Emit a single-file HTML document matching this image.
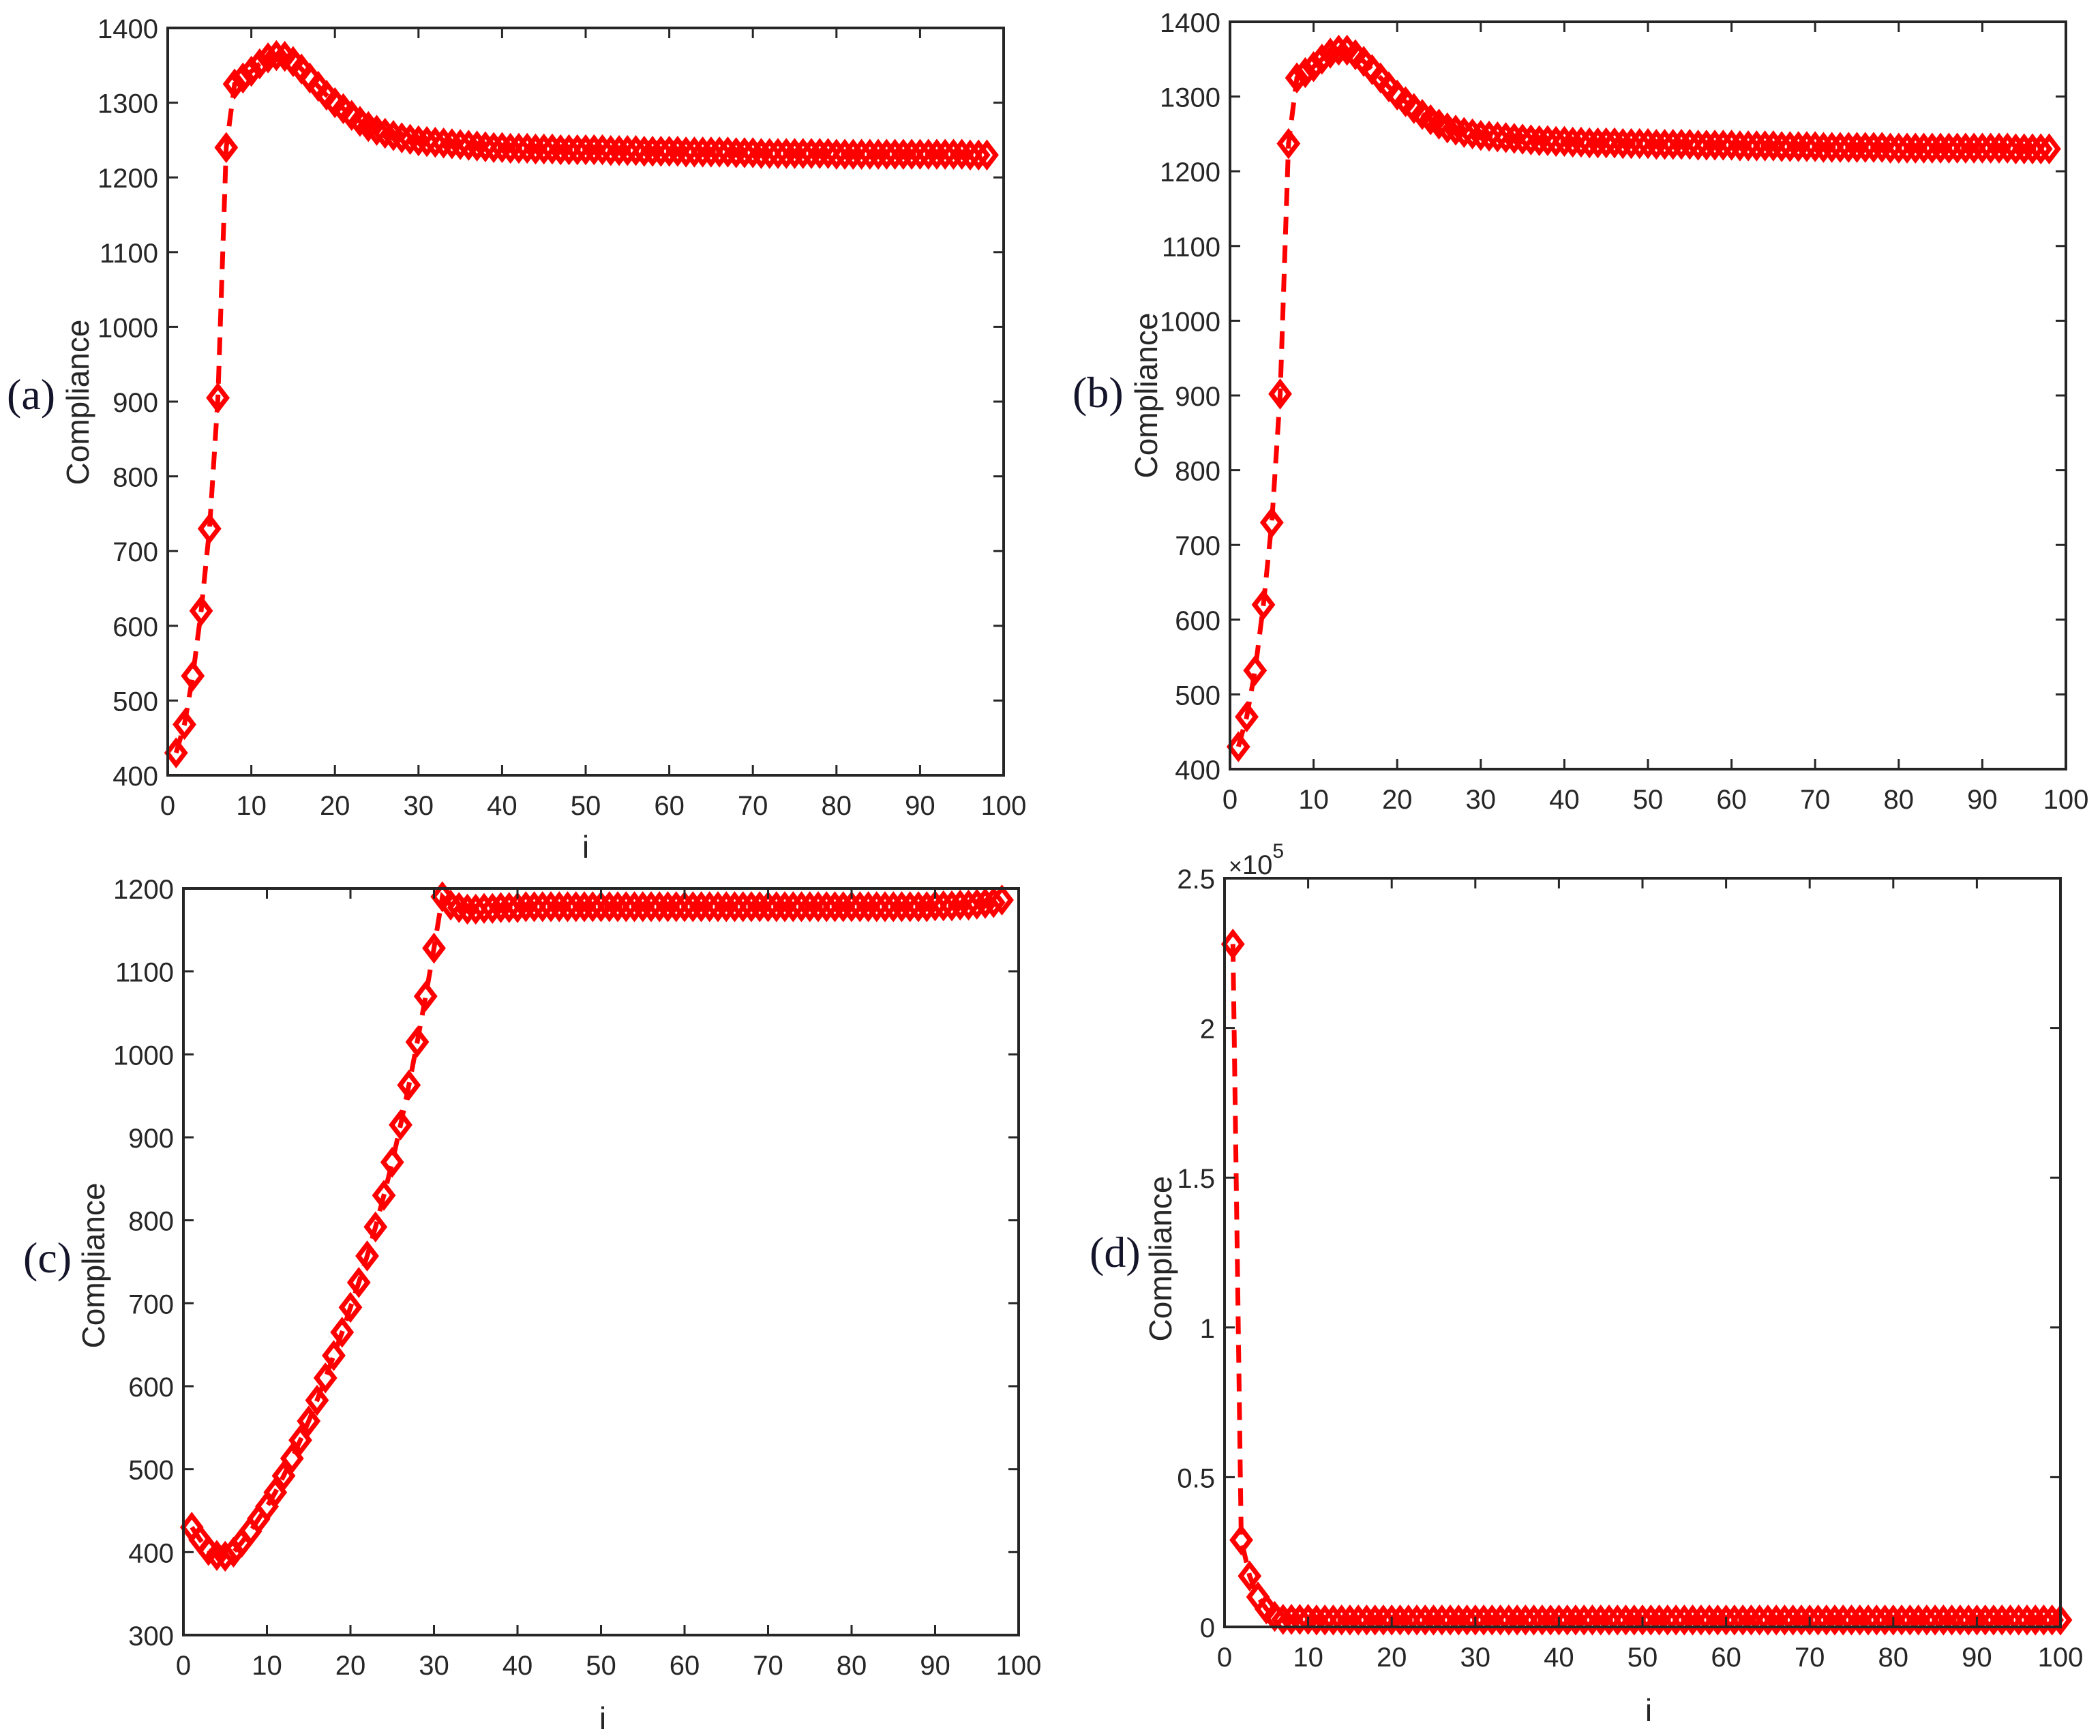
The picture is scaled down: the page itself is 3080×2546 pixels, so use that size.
<!DOCTYPE html>
<html>
<head>
<meta charset="utf-8">
<style>
  html,body{margin:0;padding:0;background:#fff;}
  svg{display:block;}
  .tick{font-family:"Liberation Sans",Arial,sans-serif;font-size:40px;fill:#262626;}
  .axlabel{font-family:"Liberation Sans",Arial,sans-serif;font-size:46px;fill:#262626;}
  .plabel{font-family:"Liberation Serif","Times New Roman",serif;font-size:64px;fill:#14142a;}
</style>
</head>
<body>
<svg id="fig" width="3080" height="2546" viewBox="0 0 3080 2546" xmlns="http://www.w3.org/2000/svg">
  <text class="plabel" x="10" y="600">(a)</text>
  <text class="plabel" x="1573" y="597">(b)</text>
  <text class="plabel" x="34" y="1866">(c)</text>
  <text class="plabel" x="1598" y="1858">(d)</text>
  <text class="axlabel" transform="translate(130,590) rotate(-90)" text-anchor="middle">Compliance</text>
  <text class="axlabel" transform="translate(1697,580) rotate(-90)" text-anchor="middle">Compliance</text>
  <text class="axlabel" transform="translate(153,1856) rotate(-90)" text-anchor="middle">Compliance</text>
  <text class="axlabel" transform="translate(1718,1846) rotate(-90)" text-anchor="middle">Compliance</text>
  <text class="axlabel" x="859" y="1258" text-anchor="middle">i</text>
  <text class="axlabel" x="884" y="2536" text-anchor="middle">i</text>
  <text class="axlabel" x="2418" y="2524" text-anchor="middle">i</text>
  <text x="1802" y="1282" style="font-family:'Liberation Sans',sans-serif;font-size:34px;fill:#262626;">×<tspan font-size="40px">10</tspan><tspan font-size="30px" dy="-24">5</tspan></text>
</svg>
<script>
const xTickValues = [0,10,20,30,40,50,60,70,80,90,100];
const xTickLabels = ["0","10","20","30","40","50","60","70","80","90","100"];

const aYTicks = [400,500,600,700,800,900,1000,1100,1200,1300,1400];
const aYTickLabels = ["400","500","600","700","800","900","1000","1100","1200","1300","1400"];
const aValues = [430,468,533,620,730,905,1240,1325,1333,1342,1352,1360,1363,1362,1355,1345,1333,1322,1310,1300,1292,1283,1275,1268,1263,1259,1256,1253,1251,1249,
1248,1247,1246,1245,1244,1243,1242,1241,1240,1240,
1239,1239,1239,1238,1238,1238,1237,1237,1237,1237,
1237,1237,1236,1236,1236,1236,1235,1235,1235,1235,
1235,1234,1234,1234,1234,1234,1234,1233,1233,1233,
1232,1232,1232,1232,1232,1232,1232,1232,1232,1231,
1231,1231,1231,1231,1231,1231,1231,1231,1231,1231,
1231,1231,1231,1231,1231,1230,1230,1230];

const bYTicks = [400,500,600,700,800,900,1000,1100,1200,1300,1400];
const bYTickLabels = ["400","500","600","700","800","900","1000","1100","1200","1300","1400"];
const bValues = [430,470,532,620,730,902,1237,1325,1332,1340,1350,1358,1362,1362,1356,1347,1336,1325,1313,1302,1293,1284,1276,1269,1263,1258,1255,1252,1250,1248,
1247,1246,1245,1244,1243,1242,1241,1241,1240,1240,
1239,1239,1238,1238,1238,1238,1237,1237,1237,1237,
1236,1236,1236,1236,1236,1235,1235,1235,1235,1235,
1234,1234,1234,1234,1234,1233,1233,1233,1233,1233,
1232,1232,1232,1232,1232,1232,1232,1232,1231,1231,
1231,1231,1231,1231,1231,1231,1231,1231,1231,1231,
1231,1231,1231,1230,1230,1230,1230,1230];

const cYTicks = [300,400,500,600,700,800,900,1000,1100,1200];
const cYTickLabels = ["300","400","500","600","700","800","900","1000","1100","1200"];
const cValues = [430,415,402,396,395,400,412,425,440,455,472,492,513,535,558,583,610,637,665,695,725,757,792,830,870,915,963,1015,1070,1128,
1190,1180,1177,1175,1175,1176,1176,1177,1177,1177,
1178,1178,1178,1178,1178,1178,1178,1178,1178,1178,
1178,1178,1178,1178,1178,1178,1178,1178,1178,1178,
1178,1178,1178,1178,1178,1178,1178,1178,1178,1178,
1178,1178,1178,1178,1178,1178,1178,1178,1178,1178,
1178,1178,1178,1178,1178,1178,1178,1178,1178,1179,
1179,1179,1180,1180,1181,1182,1183,1186];

const dYTicks = [0,50000,100000,150000,200000,250000];
const dYTickLabels = ["0","0.5","1","1.5","2","2.5"];
const dValues = [228000,29000,17000,10000,6000,3500,2500,2500,2500,2500,
2300,2300,2300,2300,2300,2300,2300,2300,2300,2300,
2300,2300,2300,2300,2300,2300,2300,2300,2300,2300,
2300,2300,2300,2300,2300,2300,2300,2300,2300,2300,
2300,2300,2300,2300,2300,2300,2300,2300,2300,2300,
2300,2300,2300,2300,2300,2300,2300,2300,2300,2300,
2300,2300,2300,2300,2300,2300,2300,2300,2300,2300,
2300,2300,2300,2300,2300,2300,2300,2300,2300,2300,
2300,2300,2300,2300,2300,2300,2300,2300,2300,2300,
2300,2300,2300,2300,2300,2300,2300,2300,2300,2300];

const NS = "http://www.w3.org/2000/svg";
const fig = document.getElementById("fig");

function mk(tag, attrs, parent) {
  const e = document.createElementNS(NS, tag);
  for (const k in attrs) e.setAttribute(k, attrs[k]);
  (parent || fig).appendChild(e);
  return e;
}

function drawPanel(key, box, yMin, yMax, yTicks, yLabels, values) {
  const g = mk("g", {});
  
  
  const xS = v => box.l + (v / 100) * (box.r - box.l);
  const yS = v => box.b - (v - yMin) / (yMax - yMin) * (box.b - box.t);

  let d = "";
  values.forEach((v, i) => { d += (i ? "L" : "M") + xS(i + 1).toFixed(1) + "," + yS(v).toFixed(1); });
  const line = mk("path", {d: d, fill: "none", stroke: "#ff0000", "stroke-width": 7, "stroke-dasharray": "26,16"}, g);
  
  

  values.forEach((v, i) => {
    const cx = xS(i + 1), cy = yS(v);
    const m = mk("path", {d: `M${cx},${cy-17}L${cx+13},${cy}L${cx},${cy+17}L${cx-13},${cy}Z`, fill: "none", stroke: "#ff0000", "stroke-width": 7}, g);
    
    
  });

  const frame = mk("rect", {x: box.l, y: box.t, width: box.r - box.l, height: box.b - box.t, fill: "none", stroke: "#262626", "stroke-width": 4}, g);
  
  

  const TL = 15;
  xTickValues.forEach((v, i) => {
    const x = xS(v);
    mk("line", {x1: x, y1: box.b, x2: x, y2: box.b - TL, stroke: "#262626", "stroke-width": 3}, g);
    mk("line", {x1: x, y1: box.t, x2: x, y2: box.t + TL, stroke: "#262626", "stroke-width": 3}, g);
    const t = mk("text", {x: x, y: box.b + 58, "text-anchor": "middle", class: "tick"}, g);
    t.textContent = xTickLabels[i];
    
    
  });
  yTicks.forEach((v, i) => {
    const y = yS(v);
    mk("line", {x1: box.l, y1: y, x2: box.l + TL, y2: y, stroke: "#262626", "stroke-width": 3}, g);
    mk("line", {x1: box.r, y1: y, x2: box.r - TL, y2: y, stroke: "#262626", "stroke-width": 3}, g);
    const t = mk("text", {x: box.l - 14, y: y + 15, "text-anchor": "end", class: "tick"}, g);
    t.textContent = yLabels[i];
    
    
  });
}

drawPanel("a", {l: 246, r: 1472, t: 41, b: 1137}, 400, 1400, aYTicks, aYTickLabels, aValues);
drawPanel("b", {l: 1804, r: 3030, t: 32, b: 1128}, 400, 1400, bYTicks, bYTickLabels, bValues);
drawPanel("c", {l: 269, r: 1494, t: 1303, b: 2398}, 300, 1200, cYTicks, cYTickLabels, cValues);
drawPanel("d", {l: 1796, r: 3022, t: 1288, b: 2386}, 0, 250000, dYTicks, dYTickLabels, dValues);
</script>
</body>
</html>
